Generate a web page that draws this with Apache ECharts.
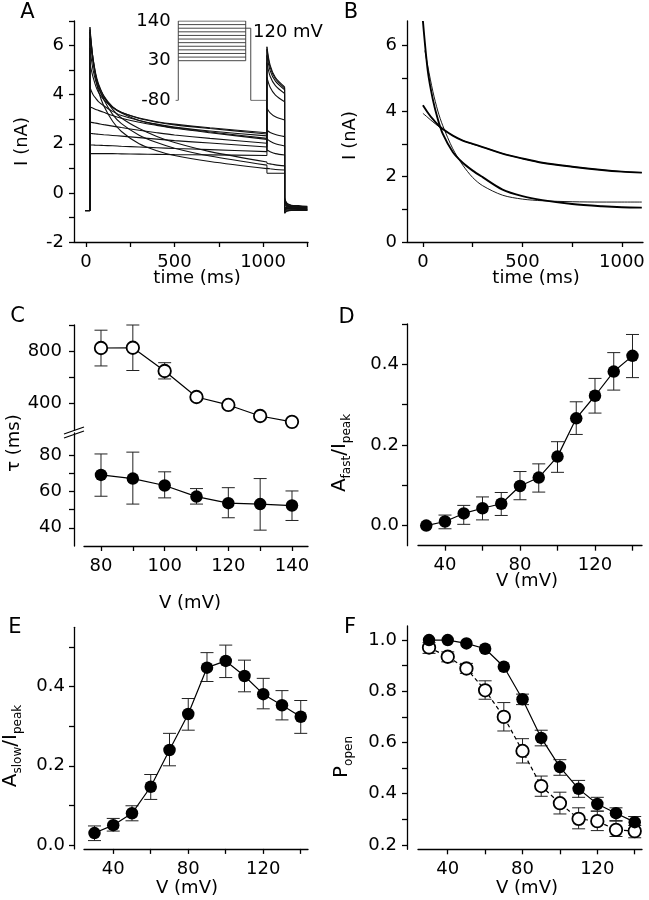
<!DOCTYPE html>
<html><head><meta charset="utf-8">
<script src="https://cdn.jsdelivr.net/npm/echarts@6/dist/echarts.min.js"></script>
<style>html,body{margin:0;padding:0;background:#fff}#c{width:649px;height:900px}</style>
</head><body><div id="c"></div>
<script>
// ================= Panel A: current traces =================
const aVoltages = [30,40,50,60,70,80,90,100,110,120,130,140];
const aHoldTimes = [-5, 22];
const aHoldCurrent = -0.72;
const aStepTimes = [22,30,40,55,70,100,150,200,300,400,500,700,1022];
const aStepCurrents = [
  [1.6,1.6,1.6,1.6,1.6,1.6,1.6,1.59,1.58,1.57,1.56,1.55,1.52],
  [1.95,1.95,1.95,1.94,1.94,1.93,1.92,1.9,1.87,1.84,1.81,1.76,1.68],
  [2.42,2.42,2.41,2.4,2.39,2.37,2.34,2.31,2.25,2.19,2.13,2.03,1.87],
  [2.87,2.87,2.86,2.84,2.82,2.78,2.72,2.66,2.55,2.45,2.36,2.22,2.02],
  [3.5,3.48,3.45,3.4,3.36,3.28,3.15,3.04,2.88,2.75,2.63,2.45,2.18],
  [4.3,4.15,4.0,3.85,3.72,3.55,3.32,3.15,2.95,2.8,2.68,2.52,2.32],
  [5.3,5.0,4.7,4.35,4.1,3.8,3.48,3.27,3.05,2.9,2.8,2.65,2.45],
  [5.9,5.45,5.0,4.55,4.25,3.88,3.5,3.28,3.03,2.88,2.77,2.62,2.4],
  [6.3,5.8,5.3,4.75,4.4,3.95,3.5,3.25,2.95,2.78,2.65,2.48,2.22],
  [6.55,6.0,5.45,4.85,4.45,3.95,3.4,3.05,2.62,2.3,2.05,1.68,1.26],
  [6.65,6.05,5.45,4.8,4.35,3.8,3.2,2.82,2.35,2.05,1.82,1.5,1.13],
  [6.75,6.1,5.4,4.65,4.15,3.55,2.92,2.5,2.0,1.72,1.52,1.28,0.99]
];
const aTestTimes = [1022,1040,1070,1122];
const aTestCurrents = [
  [5.95,5.2,4.7,4.32],[5.85,5.12,4.65,4.27],[5.6,4.98,4.55,4.2],[5.3,4.75,4.37,4.05],
  [4.7,4.3,3.98,3.71],[3.45,3.26,3.1,2.97],[2.55,2.46,2.38,2.29],[2.2,2.1,2.0,1.91],
  [1.75,1.68,1.6,1.54],[1.2,1.18,1.14,1.1],[1.0,0.98,0.95,0.93],[0.8,0.8,0.8,0.8]
];
const aTailTimes = [1122,1135,1160,1200,1250];
const aTailCurrents = [
  [-0.2,-0.42,-0.5,-0.52,-0.55],[-0.25,-0.45,-0.52,-0.55,-0.57],[-0.3,-0.48,-0.55,-0.57,-0.58],
  [-0.35,-0.5,-0.56,-0.58,-0.6],[-0.4,-0.52,-0.57,-0.6,-0.62],[-0.5,-0.56,-0.6,-0.62,-0.64],
  [-0.6,-0.6,-0.62,-0.64,-0.66],[-0.65,-0.63,-0.64,-0.66,-0.67],[-0.7,-0.66,-0.66,-0.67,-0.68],
  [-0.75,-0.7,-0.69,-0.69,-0.7],[-0.8,-0.73,-0.71,-0.71,-0.71],[-0.83,-0.75,-0.72,-0.72,-0.72]
];
const aXTicks = [0,250,500,750,1000,1250];
const aXLabels = [0,500,1000];
const aYTicks = [-2,-1,0,1,2,3,4,5,6,7];
const aYLabels = [-2,0,2,4,6];
// inset voltage protocol
const protoLevels = [30,40,50,60,70,80,90,100,110,120,130,140];
const protoTimes = [-40, 0, 1000, 1075, 1310];
const protoHold = -80;
const protoTest = 120;
const protoLabels = [140, 30, -80];

// ================= Panel B: traces with fits =================
const bTimes = [0,25,50,75,100,150,200,250,300,400,500,600,750,900,1000,1100];
const bFastData = [6.75,5.2,4.35,3.75,3.3,2.75,2.42,2.18,1.98,1.6,1.4,1.28,1.16,1.09,1.06,1.05];
const bFastFitTimes = [10,25,50,75,100,150,200,250,300,400,500,600,750,900,1000,1100];
const bFastFit = [5.85,5.35,4.6,4.0,3.55,2.85,2.35,1.97,1.72,1.43,1.31,1.26,1.23,1.22,1.22,1.22];
const bSlowData = [4.18,3.95,3.75,3.58,3.45,3.25,3.1,3.0,2.9,2.7,2.55,2.42,2.3,2.2,2.15,2.12];
const bSlowFit = [3.93,3.8,3.67,3.55,3.44,3.25,3.1,2.99,2.9,2.7,2.55,2.42,2.3,2.2,2.15,2.12];
const bXTicks = [0,250,500,750,1000];
const bXLabels = [0,500,1000];
const bYTicks = [0,1,2,3,4,5,6];
const bYLabels = [0,2,4,6];

// ================= Panel C: time constants =================
const cVoltage = [80,90,100,110,120,130,140];
const cTauSlow = [823,825,646,446,385,300,255];
const cTauSlowLo = [685,650,585,null,null,null,null];
const cTauSlowHi = [960,1000,710,null,null,null,null];
const cTauFast = [69,67,63.2,57.1,53.5,53,52.2];
const cTauFastLo = [57.3,53,56.4,53,45.5,38.7,44];
const cTauFastHi = [80.5,81.5,70.7,61.5,62,67,60.2];
const cXTicks = [80,90,100,110,120,130,140];
const cXLabels = [80,100,120,140];
const cUpperTicks = [400,600,800,1000];
const cUpperLabels = [400,800];
const cLowerTicks = [40,50,60,70,80];
const cLowerLabels = [40,60,80];

// ================= Panels D, E, F =================
const vSteps = [30,40,50,60,70,80,90,100,110,120,130,140];
const dAfast = [0.0,0.01,0.03,0.043,0.054,0.098,0.119,0.171,0.266,0.322,0.382,0.421];
const dAfastLo = [null,-0.008,0.003,0.014,0.025,0.064,0.083,0.132,0.226,0.279,0.336,0.367];
const dAfastHi = [null,0.026,0.05,0.071,0.082,0.134,0.153,0.208,0.307,0.365,0.429,0.474];
const eAslow = [0.03,0.05,0.08,0.147,0.24,0.331,0.448,0.465,0.427,0.381,0.353,0.324];
const eAslowLo = [0.011,0.035,0.061,0.115,0.2,0.29,0.413,0.423,0.387,0.344,0.316,0.282];
const eAslowHi = [0.048,0.067,0.099,0.178,0.282,0.37,0.486,0.505,0.467,0.421,0.39,0.365];
const fPopenFilled = [1.0,1.0,0.987,0.966,0.896,0.769,0.618,0.504,0.419,0.36,0.324,0.289];
const fFilledLo = [null,null,null,null,null,0.748,0.587,0.472,0.386,0.332,0.295,0.263];
const fFilledHi = [null,null,null,null,null,0.789,0.648,0.533,0.452,0.386,0.345,0.311];
const fPopenOpen = [0.971,0.935,0.889,0.804,0.7,0.567,0.43,0.363,0.302,0.293,0.259,0.254];
const fOpenLo = [0.948,0.915,0.87,0.769,0.645,0.52,0.39,0.321,0.263,0.256,0.233,0.228];
const fOpenHi = [0.99,0.954,0.909,0.841,0.756,0.615,0.469,0.406,0.345,0.332,0.293,0.276];
const vXTicks = [40,60,80,100,120,140];
const vXLabels = [40,80,120];
const dYTicks = [0,0.1,0.2,0.3,0.4,0.5];
const dYLabels = [0,0.2,0.4];
const eYTicks = [0,0.1,0.2,0.3,0.4,0.5];
const eYLabels = [0,0.2,0.4];
const fYTicks = [0.2,0.3,0.4,0.5,0.6,0.7,0.8,0.9,1.0];
const fYLabels = [0.2,0.4,0.6,0.8,1.0];

// ================= build =================
const FONT = 'DejaVu Sans';
const TICKFS = 18;
const chart = echarts.init(document.getElementById('c'), null, {renderer:'canvas'});

function axis(dim, gi, min, max, ticks, labels, fmt, extra) {
  const a = {
    type:'value', gridIndex:gi, min, max,
    axisLine:{show:true, onZero:false, lineStyle:{color:'#000', width:1.3}},
    axisTick:{show:true, length:5, lineStyle:{color:'#000', width:1.3}, customValues:ticks},
    axisLabel:{show:true, customValues:labels, margin: dim==='x'?11:10, color:'#000',
      fontFamily:FONT, fontSize:TICKFS, formatter: fmt || (v=>String(v))},
    splitLine:{show:false}
  };
  return Object.assign(a, extra||{});
}
const f1 = v => Number(v).toFixed(1);

const grids = [
  {left:74, top:21, width:234, height:221},        // 0 A
  {left:175.6, top:21, width:91, height:79.4},     // 1 A inset
  {left:407, top:21, width:236, height:221},       // 2 B
  {left:84, top:325, width:224, height:105.3},     // 3 C upper
  {left:84, top:433, width:224, height:113},       // 4 C lower
  {left:418, top:324, width:224, height:221.7},    // 5 D
  {left:84, top:627.3, width:224, height:221.6},   // 6 E
  {left:418, top:626, width:224, height:223.3}     // 7 F
];

const xAxes = [
  axis('x',0,-68,1254,aXTicks,aXLabels),
  {type:'value', gridIndex:1, min:protoTimes[0], max:protoTimes[4], show:false},
  axis('x',2,-80,1106,bXTicks,bXLabels),
  {type:'value', gridIndex:3, min:74.66, max:145.03, show:false},
  axis('x',4,74.66,145.03,cXTicks,cXLabels),
  axis('x',5,25.6,145.07,vXTicks,vXLabels),
  axis('x',6,24.4,143.87,vXTicks,vXLabels),
  axis('x',7,24.1,143.9,vXTicks,vXLabels)
];
const yAxes = [
  axis('y',0,-2,7,aYTicks,aYLabels),
  {type:'value', gridIndex:1, min:protoHold, max:140,
    axisLine:{show:false}, axisTick:{show:false}, splitLine:{show:false},
    axisLabel:{show:true, customValues:protoLabels, margin:5, color:'#000', fontFamily:FONT, fontSize:TICKFS}},
  axis('y',2,0,6.75,bYTicks,bYLabels),
  axis('y',3,190,1000,cUpperTicks,cUpperLabels,null,{offset:10}),
  axis('y',4,30,92,cLowerTicks,cLowerLabels,null,{offset:10}),
  axis('y',5,-0.05,0.5,dYTicks,dYLabels,f1,{offset:11}),
  axis('y',6,-0.01,0.55,eYTicks,eYLabels,f1,{offset:10}),
  axis('y',7,0.183,1.055,fYTicks,fYLabels,f1,{offset:11})
];
yAxes[3].axisLabel.margin = 12; yAxes[4].axisLabel.margin = 12;
yAxes[5].axisLabel.margin = 8; yAxes[6].axisLabel.margin = 9;

const series = [];
const pairs = (xs, ys) => xs.map((x,i)=>[x, ys[i]]);

// Panel A traces
aVoltages.forEach((v, k) => {
  const step = aStepCurrents[k], test = aTestCurrents[k], tail = aTailCurrents[k];
  series.push({type:'line', xAxisIndex:0, yAxisIndex:0, silent:true, symbol:'none',
    lineStyle:{color:'#111', width:1}, animation:false,
    data:[[aHoldTimes[0],aHoldCurrent],[aHoldTimes[1],aHoldCurrent],[aStepTimes[0],step[0]],
      [aStepTimes[0]+1,'-'],
      [aStepTimes[aStepTimes.length-1],step[step.length-1]],[aTestTimes[0],test[0]],
      [aTestTimes[0]+1,'-'],
      [aTestTimes[aTestTimes.length-1],test[test.length-1]],[aTailTimes[0],tail[0]]]});
  series.push({type:'line', xAxisIndex:0, yAxisIndex:0, silent:true, symbol:'none', smooth:0.3,
    lineStyle:{color:'#111', width:1.1}, animation:false,
    data:[...pairs(aStepTimes, step), [1023,'-'], ...pairs(aTestTimes, test), [1123,'-'], ...pairs(aTailTimes, tail)]});
});
// inset protocol: test levels + single envelope
protoLevels.forEach(v => {
  series.push({type:'line', xAxisIndex:1, yAxisIndex:1, silent:true, symbol:'none',
    lineStyle:{color:'#333', width:0.9}, animation:false,
    data:[[protoTimes[1],v],[protoTimes[2],v]]});
});
const pMin = Math.min(...protoLevels), pMax = Math.max(...protoLevels);
series.push({type:'line', xAxisIndex:1, yAxisIndex:1, silent:true, symbol:'none',
  lineStyle:{color:'#333', width:0.9}, animation:false,
  data:[[protoTimes[0],protoHold],[protoTimes[1],protoHold],[protoTimes[1],pMax],
    [protoTimes[1]+1,'-'],
    [protoTimes[2],pMin],[protoTimes[2],pMax],
    [protoTimes[2]+1,'-'],
    [protoTimes[2],protoTest],[protoTimes[3],protoTest],[protoTimes[3],protoHold],[protoTimes[4],protoHold]]});

// Panel B
series.push({type:'line', xAxisIndex:2, yAxisIndex:2, silent:true, symbol:'none', smooth:0.3,
  lineStyle:{color:'#000', width:1.9}, data:pairs(bTimes,bFastData)});
series.push({type:'line', xAxisIndex:2, yAxisIndex:2, silent:true, symbol:'none', smooth:0.3,
  lineStyle:{color:'#000', width:1.9}, data:pairs(bTimes,bSlowData)});
series.push({type:'line', xAxisIndex:2, yAxisIndex:2, silent:true, symbol:'none', smooth:0.3,
  lineStyle:{color:'#000', width:0.9}, data:pairs(bFastFitTimes,bFastFit), z:3});
series.push({type:'line', xAxisIndex:2, yAxisIndex:2, silent:true, symbol:'none', smooth:0.3,
  lineStyle:{color:'#000', width:0.9}, data:pairs(bTimes,bSlowFit), z:3});

// error bars + markers
function errBars(xs, lo, hi, xi, yi) {
  const data = [];
  xs.forEach((x,i)=>{ if (lo[i]!=null && hi[i]!=null) data.push([x, lo[i], hi[i]]); });
  return {type:'custom', xAxisIndex:xi, yAxisIndex:yi, silent:true, z:1, data,
    encode:{x:0, y:[1,2]},
    renderItem:(p, api) => {
      const a = api.coord([api.value(0), api.value(1)]);
      const b = api.coord([api.value(0), api.value(2)]);
      const st = {stroke:'#222', lineWidth:1};
      const w = 6.5;
      return {type:'group', children:[
        {type:'line', shape:{x1:a[0],y1:a[1],x2:b[0],y2:b[1]}, style:st},
        {type:'line', shape:{x1:a[0]-w,y1:a[1],x2:a[0]+w,y2:a[1]}, style:st},
        {type:'line', shape:{x1:b[0]-w,y1:b[1],x2:b[0]+w,y2:b[1]}, style:st}
      ]};
    }};
}
function markers(xs, ys, xi, yi, open, dash) {
  return {type:'line', xAxisIndex:xi, yAxisIndex:yi, silent:true, z:3, data:pairs(xs,ys),
    symbol:'circle', symbolSize:12.5,
    lineStyle:{color:'#000', width:1.2, type: dash || 'solid'},
    itemStyle: open ? {color:'#fff', borderColor:'#000', borderWidth:1.8} : {color:'#000', borderColor:'#000', borderWidth:0}};
}
series.push(errBars(cVoltage, cTauSlowLo, cTauSlowHi, 3, 3));
series.push(markers(cVoltage, cTauSlow, 3, 3, true));
series.push(errBars(cVoltage, cTauFastLo, cTauFastHi, 4, 4));
series.push(markers(cVoltage, cTauFast, 4, 4, false));
series.push(errBars(vSteps, dAfastLo, dAfastHi, 5, 5));
series.push(markers(vSteps, dAfast, 5, 5, false));
series.push(errBars(vSteps, eAslowLo, eAslowHi, 6, 6));
series.push(markers(vSteps, eAslow, 6, 6, false));
series.push(errBars(vSteps, fOpenLo, fOpenHi, 7, 7));
series.push(markers(vSteps, fPopenOpen, 7, 7, true, [4,3]));
series.push(errBars(vSteps, fFilledLo, fFilledHi, 7, 7));
series.push(markers(vSteps, fPopenFilled, 7, 7, false));

// texts
function txt(t, x, y, fs, rot, rich) {
  return {type:'text', x, y, rotation: rot||0, silent:true,
    style:{text:t, fill:'#000', fontFamily:FONT, fontSize:fs, align:'center', verticalAlign:'middle', rich: rich}};
}
const subRich = {
  m:{fontFamily:FONT, fontSize:20, lineHeight:22, verticalAlign:'top'},
  s:{fontFamily:FONT, fontSize:12, lineHeight:12, padding:[11,0,0,0], verticalAlign:'top'}
};
const graphic = [
  txt('A', 27.5, 12.5, 21), txt('B', 351, 12.5, 21), txt('C', 17.5, 316.5, 21),
  txt('D', 346.5, 317.5, 21), txt('E', 15, 627.5, 21), txt('F', 350, 627.5, 21),
  txt('I (nA)', 22, 141.5, 18, Math.PI/2),
  txt('I (nA)', 350, 135.5, 18, Math.PI/2),
  txt('time (ms)', 197, 278, 18), txt('time (ms)', 536, 278, 18),
  txt('τ (ms)', 14, 443, 18, Math.PI/2),
  txt('V (mV)', 190, 603, 18), txt('V (mV)', 527, 581, 18),
  txt('V (mV)', 187, 888, 18), txt('V (mV)', 527, 888, 18),
  txt('{m|A}{s|fast}{m|/I}{s|peak}', 341, 453, 20, Math.PI/2, subRich),
  txt('{m|A}{s|slow}{m|/I}{s|peak}', 12, 746, 20, Math.PI/2, subRich),
  txt('{m|P}{s|open}', 343, 757, 20, Math.PI/2, subRich),
  {type:'text', x:253, y:32, silent:true, style:{text:'120 mV', fill:'#000', fontFamily:FONT, fontSize:18, align:'left', verticalAlign:'middle'}},
  {type:'line', silent:true, shape:{x1:64,y1:434,x2:84,y2:427}, style:{stroke:'#000', lineWidth:1.2}},
  {type:'line', silent:true, shape:{x1:64,y1:438,x2:84,y2:431}, style:{stroke:'#000', lineWidth:1.2}}
];

chart.setOption({
  animation:false,
  backgroundColor:'#fff',
  grid: grids,
  xAxis: xAxes,
  yAxis: yAxes,
  series,
  graphic
});
</script></body></html>
